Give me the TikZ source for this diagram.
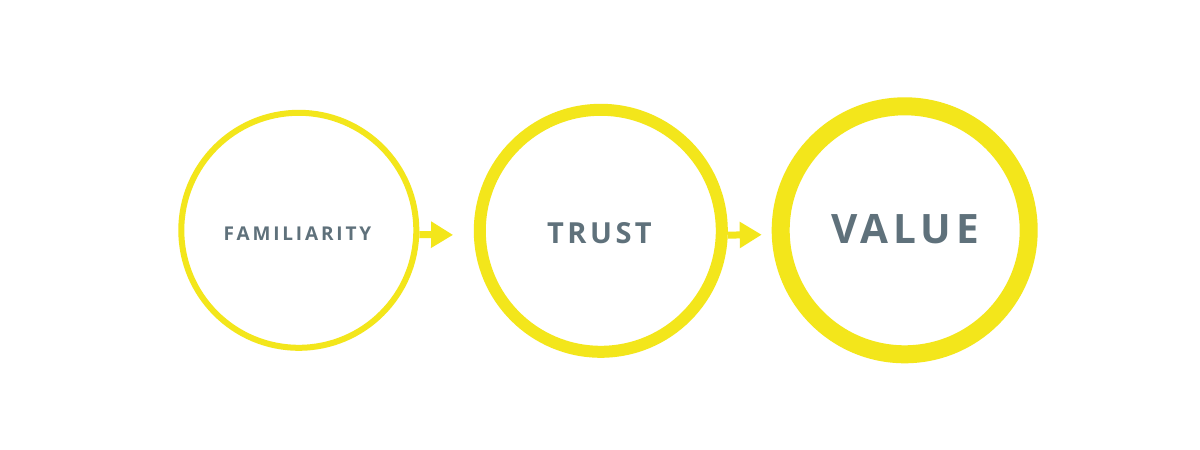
\documentclass[tikz,border=0pt]{standalone}
\usepackage{fontspec}
\usetikzlibrary{arrows.meta}
\newfontfamily\lblfont[LetterSpace=15]{Open Sans}
\newfontfamily\lblfontb[LetterSpace=12]{Open Sans}
\definecolor{ringyellow}{HTML}{F3E61B}
\definecolor{labelgray}{HTML}{5F717B}
\begin{document}
\begin{tikzpicture}[x=1pt,y=1pt,
  ring/.style={circle, draw=ringyellow, fill=white, inner sep=0pt},
  lbl/.style={text=labelgray, inner sep=0pt},
  arr/.style={draw=ringyellow, line width=7pt,
    -{Triangle[length=22pt,width=25pt,fill=ringyellow]}}
]
\useasboundingbox[fill=white] (0,0) rectangle (1200,450);
\node[ring, line width=6pt, minimum size=235pt] (c1) at (298.8,219.7) {};
\node[ring, line width=12pt, minimum size=242pt] (c2) at (600.8,219.2) {};
\node[ring, line width=18pt, minimum size=248pt] (c3) at (904.7,219.7) {};
\node[lbl, font=\lblfont\bfseries\fontsize{19}{22}\selectfont] (t1) at (297.5,216.5) {FAMILIARITY};
\node[lbl, font=\lblfontb\bfseries\fontsize{29}{32}\selectfont] (t2) at (599.5,216.7) {TRUST};
\node[lbl, font=\lblfontb\bfseries\fontsize{40.5}{44}\selectfont] (t3) at (905,220.5) {VALUE};
\draw[arr, shorten >=20.7pt] ([yshift=-4.3pt]c1.east) -- ([yshift=-4.3pt]c2.west);
\draw[arr, shorten >=10pt] ([yshift=-4.3pt]c2.east) -- ([yshift=-4.3pt]c3.west);
\end{tikzpicture}
\end{document}
